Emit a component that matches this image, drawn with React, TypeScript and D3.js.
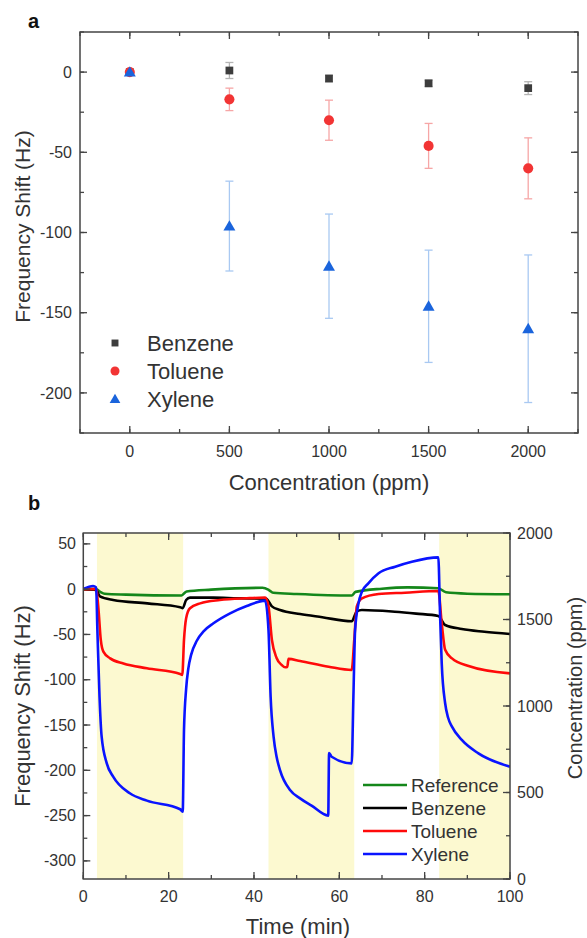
import * as React from "react";
import * as d3 from "d3";

// panel a: frequency shift vs concentration
const concentrations = [0, 500, 1000, 1500, 2000];
const benzeneShift = [0, 1, -4, -7, -10];
const benzeneErr = [1, 5, 2, 2, 4];
const tolueneShift = [0, -17, -30, -46, -60];
const tolueneErr = [1, 7, 12.5, 14, 19];
const xyleneShift = [0, -96, -121, -146, -160];
const xyleneErr = [1, 28, 32.5, 35, 46];

// panel b: time traces [min, Hz]
const referenceTrace = [
  [0, 0], [3, 0], [4, -3], [5, -5], [10, -6], [23, -7], [24.2, -2.5], [30, -0.5],
  [42, 1.5], [43.5, -1], [44.5, -4], [50, -5.3], [62.9, -7], [63.8, -3], [70, 0.5],
  [76, 2], [83.2, 1], [85, -3.5], [90, -5], [100, -5.7],
];
const benzeneTrace = [
  [0, 0], [3, -1], [3.9, -8], [7, -12], [15, -15.7], [22.7, -20], [23.3, -21],
  [24.1, -12], [25, -9.4], [30.5, -9.4], [36, -10], [42.8, -10.5], [44.2, -19],
  [46.1, -23], [50.8, -27.5], [56, -31], [62.9, -35.5], [64.1, -24.5], [65.3, -23],
  [73, -24.9], [78, -27], [83.2, -29.6], [84.8, -39.6], [88.7, -44], [94, -47], [100, -49.5],
];
const tolueneTrace = [
  [0, 0], [3, 0], [3.5, -19], [4.1, -56], [4.7, -69], [6.3, -76.4], [9.4, -82],
  [14.9, -87.4], [22.7, -93.7], [23.2, -94.8], [23.6, -56], [24.1, -32], [25, -21],
  [27.4, -15.7], [32, -12], [38.3, -10.1], [42.6, -9.4], [43.4, -19], [44.2, -56],
  [45.3, -76], [46.5, -83.7], [47.3, -86.3], [47.8, -86], [48.1, -77], [50.8, -79.3],
  [57.5, -85.6], [62.9, -89.2], [63.5, -56], [64.1, -19], [65.3, -10.1], [69.2, -5.4],
  [75.4, -3.9], [83.2, -2], [84, -37.7], [84.8, -67], [86.4, -76.4], [90.3, -84.8], [100, -93],
];
const xyleneTrace = [
  [0, 0], [2.3, 3.5], [3, 2], [3.3, -45], [3.8, -118.7], [4.3, -162.9], [5.5, -192.3],
  [7, -207], [10.9, -225.4], [14.9, -233.5], [22.7, -243], [23.3, -245.7], [23.6, -155.5],
  [24.1, -110], [24.6, -88], [25.3, -72], [26.6, -57], [28.3, -46], [30.5, -37.7],
  [34.4, -26.7], [38.3, -18.6], [42.6, -12.7], [43.4, -45], [43.9, -118.7], [44.6, -163],
  [45.3, -185], [46.1, -199.7], [48.5, -222], [50.8, -231], [53.5, -239], [57.4, -250],
  [57.6, -181], [58.2, -185], [62.9, -192.3], [63.3, -118.7], [63.7, -45], [64.5, -15.7],
  [65.3, -2.8], [66.8, 6.4], [69.2, 17.5], [73.1, 24.8], [77, 30.3], [83.2, 35.1],
  [83.6, -26.7], [84, -81.9], [84.8, -126], [85.5, -142], [86.4, -151.8], [88.7, -166.5],
  [92.6, -181.3], [100, -196],
];
const exposureWindows = [[3.2, 23.4], [43.4, 63.5], [83.4, 100]];

const xTicksA = [0, 500, 1000, 1500, 2000];
const yTicksA = [0, -50, -100, -150, -200];
const xTicksB = [0, 20, 40, 60, 80, 100];
const yTicksB = [50, 0, -50, -100, -150, -200, -250, -300];
const y2TicksB = [0, 500, 1000, 1500, 2000];

const FONT = "'Liberation Sans', Arial, sans-serif";
const AXIS = "#444";
const TXT = "#333";

function tickPaths(scale, values, side, pos, len) {
  return values.map((v, i) => {
    const p = d3.path();
    const c = scale(v);
    if (side === "left") { p.moveTo(pos, c); p.lineTo(pos + len, c); }
    if (side === "right") { p.moveTo(pos, c); p.lineTo(pos - len, c); }
    if (side === "bottom") { p.moveTo(c, pos); p.lineTo(c, pos - len); }
    if (side === "top") { p.moveTo(c, pos); p.lineTo(c, pos + len); }
    return <path key={side + i} d={p.toString()} stroke={AXIS} strokeWidth={1.3} fill="none" />;
  });
}

function PanelA() {
  const L = 80, R = 578, T = 32, B = 433;
  const x = d3.scaleLinear().domain([-250, 2250]).range([L, R]);
  const y = d3.scaleLinear().domain([-225, 25]).range([B, T]);
  const xMinor = d3.range(-250, 2251, 250);
  const yMinor = d3.range(-225, 26, 25);

  const series = [
    { name: "Benzene", vals: benzeneShift, err: benzeneErr, fill: "#3d3d3d", errC: "#b4b4b4", sym: d3.symbolSquare, size: 60 },
    { name: "Toluene", vals: tolueneShift, err: tolueneErr, fill: "#f23434", errC: "#f6a6a6", sym: d3.symbolCircle, size: 80 },
    { name: "Xylene", vals: xyleneShift, err: xyleneErr, fill: "#1a64dc", errC: "#a9c9f2", sym: d3.symbolTriangle, size: 62 },
  ];

  return (
    <g>
      <text x={28} y={28} fontFamily={FONT} fontWeight="bold" fontSize={20} fill="#111">a</text>
      {series.map((s) =>
        s.vals.map((v, i) => {
          if (s.err[i] < 2) return null;
          const cx = x(concentrations[i]);
          const lo = y(v - s.err[i]);
          const hi = y(v + s.err[i]);
          return (
            <g key={s.name + "e" + i} stroke={s.errC} strokeWidth={1.3}>
              <line x1={cx} x2={cx} y1={lo} y2={hi} />
              <line x1={cx - 4} x2={cx + 4} y1={lo} y2={lo} />
              <line x1={cx - 4} x2={cx + 4} y1={hi} y2={hi} />
            </g>
          );
        })
      )}
      {series.map((s) =>
        s.vals.map((v, i) => (
          <path
            key={s.name + "m" + i}
            transform={`translate(${x(concentrations[i])},${y(v) + (s.sym === d3.symbolTriangle ? 1 : 0)})`}
            d={d3.symbol().type(s.sym).size(s.size)()}
            fill={s.fill}
          />
        ))
      )}
      <rect x={L} y={T} width={R - L} height={B - T} fill="none" stroke={AXIS} strokeWidth={1.5} />
      {tickPaths(x, xTicksA, "bottom", B, 7)}
      {tickPaths(x, xMinor, "bottom", B, 4)}
      {tickPaths(x, xTicksA, "top", T, 7)}
      {tickPaths(x, xMinor, "top", T, 4)}
      {tickPaths(y, yTicksA, "left", L, 7)}
      {tickPaths(y, yMinor, "left", L, 4)}
      {tickPaths(y, yTicksA, "right", R, 7)}
      {tickPaths(y, yMinor, "right", R, 4)}
      {xTicksA.map((t) => (
        <text key={"xl" + t} x={x(t)} y={457} textAnchor="middle" fontFamily={FONT} fontSize={16} fill={TXT}>{t}</text>
      ))}
      {yTicksA.map((t) => (
        <text key={"yl" + t} x={72} y={y(t)} dy="0.35em" textAnchor="end" fontFamily={FONT} fontSize={16} fill={TXT}>{t}</text>
      ))}
      <text x={(L + R) / 2} y={490} textAnchor="middle" fontFamily={FONT} fontSize={22} fill={TXT}>Concentration (ppm)</text>
      <text transform={`translate(30, ${(T + B) / 2 - 6}) rotate(-90)`} textAnchor="middle" fontFamily={FONT} fontSize={21} fill={TXT}>Frequency Shift (Hz)</text>
      {series.map((s, i) => (
        <g key={s.name + "lg"} transform={`translate(0, ${343 + i * 28})`}>
          <path transform={`translate(115, ${s.sym === d3.symbolTriangle ? 1 : 0})`} d={d3.symbol().type(s.sym).size(s.size * 0.8)()} fill={s.fill} />
          <text x={147} y={0} dy="0.36em" fontFamily={FONT} fontSize={22} fill={TXT}>{s.name}</text>
        </g>
      ))}
    </g>
  );
}

function PanelB() {
  const L = 83.3, R = 510, T = 533, B = 879;
  const x = d3.scaleLinear().domain([0, 100]).range([L, R]);
  const y = d3.scaleLinear().domain([-320, 62]).range([B, T]);
  const y2 = d3.scaleLinear().domain([0, 2000]).range([B, T]);
  const line = d3.line().x((d) => x(d[0])).y((d) => y(d[1])).curve(d3.curveMonotoneX);

  const traces = [
    { name: "Reference", data: referenceTrace, color: "#14871a" },
    { name: "Benzene", data: benzeneTrace, color: "#000000" },
    { name: "Toluene", data: tolueneTrace, color: "#ff0a0a" },
    { name: "Xylene", data: xyleneTrace, color: "#0a14ff" },
  ];

  return (
    <g>
      <defs>
        <clipPath id="clipB"><rect x={L} y={T} width={R - L} height={B - T} /></clipPath>
      </defs>
      <text x={28} y={510} fontFamily={FONT} fontWeight="bold" fontSize={20} fill="#111">b</text>
      {exposureWindows.map((w, i) => (
        <rect key={"w" + i} x={x(w[0])} y={T} width={x(w[1]) - x(w[0])} height={B - T} fill="#fcf9d0" />
      ))}
      <g clipPath="url(#clipB)">
        {traces.map((tr) => (
          <path key={tr.name} d={line(tr.data)} fill="none" stroke={tr.color} strokeWidth={2.6} strokeLinejoin="round" />
        ))}
      </g>
      <rect x={L} y={T} width={R - L} height={B - T} fill="none" stroke={AXIS} strokeWidth={1.5} />
      {tickPaths(x, xTicksB, "bottom", B, 7)}
      {tickPaths(x, d3.range(0, 101, 10), "bottom", B, 4)}
      {tickPaths(x, xTicksB, "top", T, 7)}
      {tickPaths(x, d3.range(0, 101, 10), "top", T, 4)}
      {tickPaths(y, yTicksB, "left", L, 7)}
      {tickPaths(y, d3.range(-300, 61, 25), "left", L, 4)}
      {tickPaths(y2, y2TicksB, "right", R, 7)}
      {tickPaths(y2, d3.range(0, 2001, 250), "right", R, 4)}
      {xTicksB.map((t) => (
        <text key={"xl" + t} x={x(t)} y={902} textAnchor="middle" fontFamily={FONT} fontSize={16} fill={TXT}>{t}</text>
      ))}
      {yTicksB.map((t) => (
        <text key={"yl" + t} x={76} y={y(t)} dy="0.35em" textAnchor="end" fontFamily={FONT} fontSize={16} fill={TXT}>{t}</text>
      ))}
      {y2TicksB.map((t) => (
        <text key={"yr" + t} x={517} y={y2(t)} dy="0.35em" textAnchor="start" fontFamily={FONT} fontSize={16} fill={TXT}>{t}</text>
      ))}
      <text x={298} y={934} textAnchor="middle" fontFamily={FONT} fontSize={22} fill={TXT}>Time (min)</text>
      <text transform={`translate(30, ${(T + B) / 2}) rotate(-90)`} textAnchor="middle" fontFamily={FONT} fontSize={22} fill={TXT}>Frequency Shift (Hz)</text>
      <text transform={`translate(582, ${688}) rotate(-90)`} textAnchor="middle" fontFamily={FONT} fontSize={20} fill={TXT}>Concentration (ppm)</text>
      {traces.map((tr, i) => (
        <g key={tr.name + "lg"} transform={`translate(0, ${785 + i * 23})`}>
          <line x1={363} x2={407} y1={0} y2={0} stroke={tr.color} strokeWidth={2.6} />
          <text x={411} y={0} dy="0.36em" fontFamily={FONT} fontSize={19} fill={TXT}>{tr.name}</text>
        </g>
      ))}
    </g>
  );
}

export default function App() {
  return (
    <svg width={587} height={938} style={{ position: "absolute", left: 0, top: 0, background: "#fff" }}>
      <PanelA />
      <PanelB />
    </svg>
  );
}
